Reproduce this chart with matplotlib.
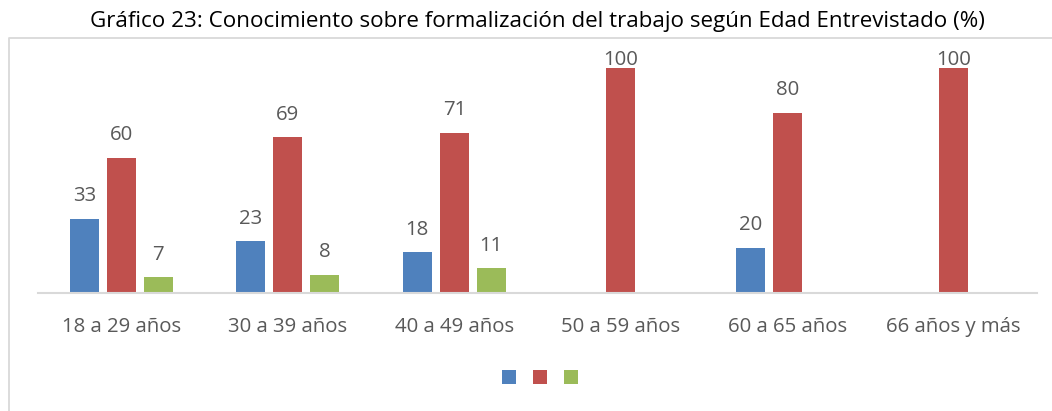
import matplotlib
matplotlib.use("Agg")
import matplotlib.pyplot as plt
import numpy as np
from matplotlib.lines import Line2D

plt.rcParams['font.family'] = ['Open Sans', 'DejaVu Sans']

categories = ["18 a 29 años", "30 a 39 años", "40 a 49 años", "50 a 59 años", "60 a 65 años", "66 años y más"]
serie_azul = [33, 23, 18, None, 20, None]
serie_roja = [60, 69, 71, 100, 80, 100]
serie_verde = [7, 8, 11, None, None, None]
title = "Gráfico 23: Conocimiento sobre formalización del trabajo según Edad Entrevistado (%)"

colors = ["#4F81BD", "#C0504D", "#9BBB59"]
series = [serie_azul, serie_roja, serie_verde]
text_color = "#595959"

W, H = 1052, 411
fig = plt.figure(figsize=(W / 100, H / 100), dpi=100)
ax = fig.add_axes([38 / W, 1 - 293 / H, (1037 - 38) / W, (293 - 45) / H])

x = np.arange(len(categories))
bw = 0.174
step = 0.222
for i, (s, c) in enumerate(zip(series, colors)):
    vals = np.array([np.nan if v is None else v for v in s], dtype=float)
    pos = x + (i - 1) * step
    ax.bar(pos, np.nan_to_num(vals), width=bw, color=c, zorder=3)
    for p, v in zip(pos, vals):
        if np.isnan(v):
            continue
        off = 12.7 if v < 95 else 2.0
        ax.annotate(f"{v:.0f}", (p, v), xytext=(0, off), textcoords="offset points",
                    ha="center", va="baseline", fontsize=14.7, color=text_color,
                    annotation_clip=False)

ax.set_xlim(-0.5, len(categories) - 0.5)
ax.set_ylim(0, 110)
ax.set_yticks([])
ax.set_xticks(x)
ax.set_xticklabels(categories, fontsize=14.7, color=text_color)
ax.tick_params(axis='x', length=0, pad=17)
for sp in ["top", "right", "left"]:
    ax.spines[sp].set_visible(False)
ax.spines["bottom"].set_color("#D9D9D9")
ax.spines["bottom"].set_linewidth(1.5)
ax.spines["bottom"].set_zorder(4)

fig.text(537 / W, 1 - 22 / H, title, ha="center", va="center", fontsize=16.1, color="black")

# chart border (left and top)
fig.add_artist(Line2D([8.5 / W, 8.5 / W, 1.0], [0.0, 1 - 38.5 / H, 1 - 38.5 / H],
                      transform=fig.transFigure, color="#D9D9D9", lw=1.3))

handles = [Line2D([], [], marker="s", linestyle="none", markersize=10, color=c, markeredgewidth=0)
           for c in colors]
fig.legend(handles, ["", "", ""], ncol=3, loc="center", bbox_to_anchor=(540 / W, 1 - 378 / H),
           frameon=False, handlelength=1.0, handletextpad=0.0, columnspacing=1.2, fontsize=10)

fig.savefig("out.png", dpi=100)
